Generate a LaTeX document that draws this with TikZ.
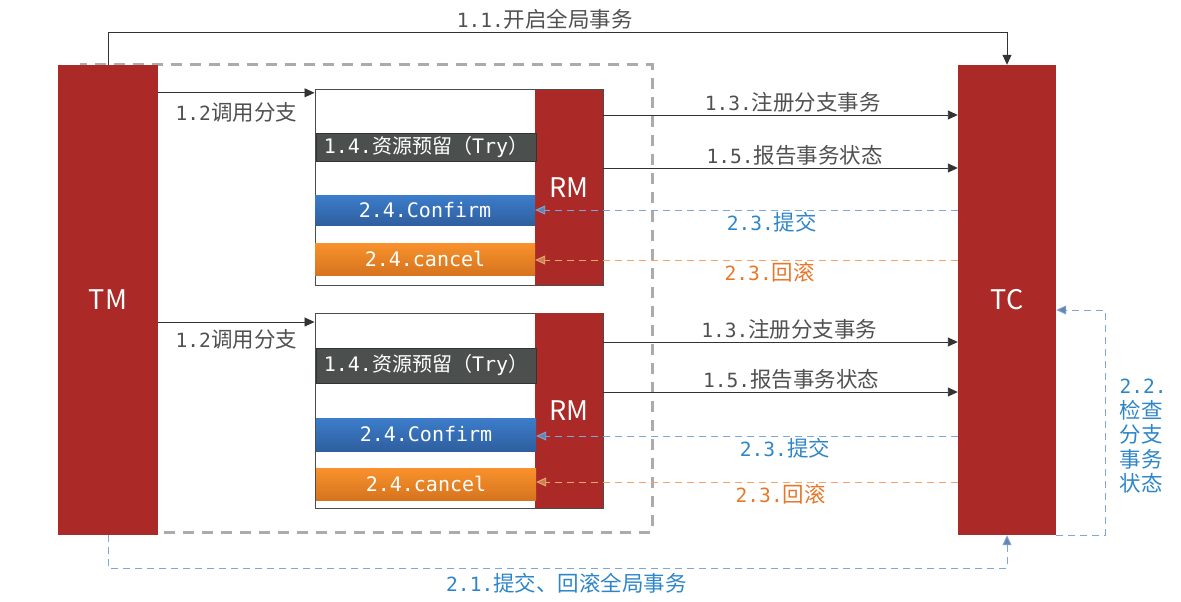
\documentclass[tikz,border=0pt]{standalone}
\usepackage{fontspec}
\setmainfont{Noto Sans CJK SC}
\newfontfamily\monofont[Scale=0.91]{DejaVu Sans Mono}
\newfontfamily\boxmonofont{DejaVu Sans Mono}
\usepackage{tikz}
\usetikzlibrary{arrows.meta,calc}

\definecolor{actred}{HTML}{AB2A27}
\definecolor{trygray}{HTML}{4B504F}
\definecolor{confblue}{HTML}{3C7DCB}
\definecolor{confblued}{HTML}{2F5F9F}
\definecolor{cancorange}{HTML}{F9922C}
\definecolor{cancoranged}{HTML}{D6741F}
\definecolor{lblgray}{HTML}{505050}
\definecolor{lblblue}{HTML}{2E86C8}
\definecolor{lblorange}{HTML}{E8772A}
\definecolor{lineblue}{HTML}{7EA6DA}
\definecolor{lineorange}{HTML}{F2A46A}

\newcommand{\mn}[1]{{\monofont #1}}
\newcommand{\mnb}[1]{{\boxmonofont #1}}

\begin{document}
\begin{tikzpicture}[x=1pt, y=-1pt, every node/.style={inner sep=2pt}]
        \tikzset{
            actor/.style={fill=actred, text=white, font=\fontsize{27}{30}\selectfont, minimum width=100pt, minimum height=470pt},
            rmbox/.style={fill=actred, text=white, font=\fontsize{27}{30}\selectfont, minimum width=68pt, minimum height=195pt},
            branch/.style={draw=black!70, fill=white, line width=1pt, minimum width=288pt, minimum height=195pt},
            phase/.style={text=white, minimum width=220pt, font=\fontsize{20}{22}\selectfont},
            trybox/.style={phase, fill=trygray, draw=black!80},
            confbox/.style={phase, top color=confblue, bottom color=confblued},
            cancbox/.style={phase, top color=cancorange, bottom color=cancoranged},
            grp/.style={draw=black!33, line width=3pt, dash pattern=on 11pt off 8pt},
            lbl/.style={font=\fontsize{21.5}{24.5}\selectfont},
            arr/.style={-{Triangle[length=10pt,width=9pt]}, line width=0.9pt, draw=black!80},
            arrb/.style={-{Triangle[length=10pt,width=9pt, fill=lineblue!80!black]}, line width=0.9pt, draw=lineblue, dash pattern=on 7pt off 5pt},
            arro/.style={-{Triangle[length=10pt,width=9pt, fill=lineorange!80!black]}, line width=0.9pt, draw=lineorange, dash pattern=on 7pt off 5pt}
        }
        \useasboundingbox (0,0) rectangle (1181,602);

        % Global transaction frame
        \draw[grp] (80,65) rectangle (652,532);

        % TM and TC
        \node[actor] (tm) at (108,300) {TM};
        \node[actor, minimum width=98pt] (tc) at (1007,300) {TC};

        % Upper branch
        \node[branch] (brA) at (459,187.5) {};
        \node[rmbox] (rmA) at (569,187.5) {RM};
        \node[trybox, minimum height=28pt] (tryA) at (426,147) {\mnb{1.4.}资源预留（\mnb{Try}）};
        \node[confbox, minimum height=30pt] (confA) at (425,210) {\mnb{2.4.Confirm}};
        \node[cancbox, minimum height=32pt] (cancA) at (425,259) {\mnb{2.4.cancel}};

        % Lower branch
        \node[branch] (brB) at (459,410.5) {};
        \node[rmbox] (rmB) at (569,410.5) {RM};
        \node[trybox, minimum height=35pt] (tryB) at (426,365.5) {\mnb{1.4.}资源预留（\mnb{Try}）};
        \node[confbox, minimum height=33pt] (confB) at (426,434.5) {\mnb{2.4.Confirm}};
        \node[cancbox, minimum height=32pt] (cancB) at (426,484) {\mnb{2.4.cancel}};

        % Global begin / commit
        \draw[arr] (tm.north) -- ++(0,-32) -| node[pos=0.243, above=1pt, lbl, text=lblgray]{\mn{1.1.}开启全局事务} (tc.north);
        \draw[arrb] (tm.south) -- ++(0,33) -| node[pos=0.255, below=3pt, lbl, text=lblblue]{\mn{2.1.}提交、回滚全局事务} (tc.south);

        % Call branches
        \draw[arr] ([yshift=-28]tm.north east) -- ([yshift=-28]tm.north east -| brA.west) node[midway, below=7pt, lbl, text=lblgray]{\mn{1.2}调用分支};
        \draw[arr] ([yshift=-22]tm.east) -- ([yshift=-22]tm.east -| brB.west) node[midway, below=5pt, lbl, text=lblgray]{\mn{1.2}调用分支};

        % Upper branch messages
        \draw[arr] ([yshift=72.5]rmA.east) -- ([yshift=72.5]rmA.east -| tc.west) node[pos=0.535, above=0pt, lbl, text=lblgray]{\mn{1.3.}注册分支事务};
        \draw[arr] ([yshift=19.5]rmA.east) -- ([yshift=19.5]rmA.east -| tc.west) node[pos=0.54, above=0pt, lbl, text=lblgray]{\mn{1.5.}报告事务状态};
        \draw[arrb] (confA.east -| tc.west) -- node[pos=0.44, below=0pt, lbl, text=lblblue]{\mn{2.3.}提交} (confA.east);
        \draw[arro] ([yshift=-1]cancA.east -| tc.west) -- node[pos=0.445, below=0pt, lbl, text=lblorange]{\mn{2.3.}回滚} ([yshift=-1]cancA.east);

        % Lower branch messages
        \draw[arr] ([yshift=68.5]rmB.east) -- ([yshift=68.5]rmB.east -| tc.west) node[pos=0.525, above=0pt, lbl, text=lblgray]{\mn{1.3.}注册分支事务};
        \draw[arr] ([yshift=18.5]rmB.east) -- ([yshift=18.5]rmB.east -| tc.west) node[pos=0.53, above=0pt, lbl, text=lblgray]{\mn{1.5.}报告事务状态};
        \draw[arrb] ([yshift=-1.5]confB.east -| tc.west) -- node[pos=0.41, below=0pt, lbl, text=lblblue]{\mn{2.3.}提交} ([yshift=-1.5]confB.east);
        \draw[arro] ([yshift=2]cancB.east -| tc.west) -- node[pos=0.42, below=0pt, lbl, text=lblorange]{\mn{2.3.}回滚} ([yshift=2]cancB.east);

        % Branch status check
        \draw[arrb] (tc.south east) -- ++(49,0) |- node[pos=0.22, right=12pt, lbl, text=lblblue, align=left]{\mn{2.2.}\\检查\\分支\\事务\\状态} ([yshift=-10]tc.east);
    \end{tikzpicture}
\end{document}
